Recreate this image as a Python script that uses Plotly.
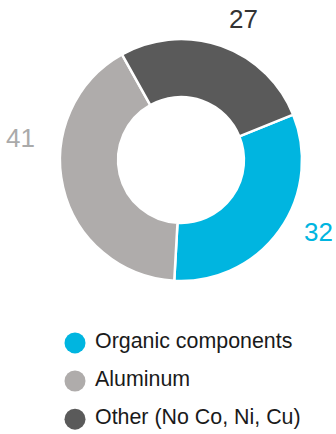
import plotly.graph_objects as go

categories = ["Organic components", "Aluminum", "Other (No Co, Ni, Cu)"]
values = [32, 41, 27]
colors = ["#00B5E0", "#AFACAB", "#5A5A5A"]
label_colors = ["#00B5E0", "#AAAAAA", "#333333"]

W, H = 336, 434
FONT = "Liberation Sans, Arial, sans-serif"

# value-label anchor points (pixels from top-left), layout only
label_pos = [(318, 232), (20, 138), (243, 19)]

fig = go.Figure()

fig.add_trace(go.Pie(
    labels=categories,
    values=values,
    sort=False,
    direction="clockwise",
    rotation=68,
    hole=0.52,
    marker=dict(colors=colors, line=dict(color="white", width=2.5)),
    textinfo="none",
    showlegend=False,
    hoverinfo="label+value",
    domain=dict(x=[60 / W, 302 / W], y=[1 - 281 / H, 1 - 39 / H]),
))

for v, c, (px, py) in zip(values, label_colors, label_pos):
    fig.add_annotation(
        x=px / W, y=1 - py / H, xref="paper", yref="paper",
        text=str(v), showarrow=False, xanchor="center", yanchor="middle",
        font=dict(family=FONT, size=26, color=c),
    )

# custom legend with round markers
fig.add_trace(go.Scatter(
    x=[0] * len(categories),
    y=categories,
    mode="markers",
    marker=dict(size=21, color=colors),
    showlegend=False,
    hoverinfo="skip",
    xaxis="x", yaxis="y",
))
fig.add_trace(go.Scatter(
    x=[20] * len(categories),
    y=categories,
    mode="text",
    text=categories,
    textposition="middle right",
    textfont=dict(family=FONT, size=21.4, color="#1a1a1a"),
    cliponaxis=False,
    showlegend=False,
    hoverinfo="skip",
    xaxis="x", yaxis="y",
))

fig.update_layout(
    width=W, height=H,
    margin=dict(l=0, r=0, t=0, b=0),
    paper_bgcolor="white", plot_bgcolor="white",
    xaxis=dict(domain=[0, 1], range=[-75, W - 75], visible=False, fixedrange=True),
    yaxis=dict(domain=[0, 1 - 325 / H], visible=False, range=[2.39, -0.47],
               type="category", fixedrange=True),
    font=dict(family=FONT),
)

fig.write_html("out.html")
